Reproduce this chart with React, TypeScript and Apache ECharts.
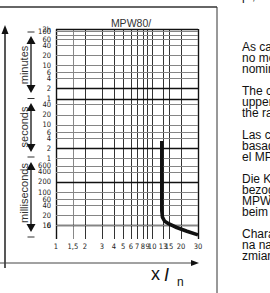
import { useEffect, useRef } from "react";
import * as echarts from "echarts";

// ---- data ----
const xTickValues = [1, 1.5, 2, 3, 4, 5, 6, 7, 8, 9, 10, 13, 15, 20, 30];
const xTickLabels = ["1", "1,5", "2", "3", "4", "5", "6", "7", "8", "9", "10", "13", "15", "20", "30"];

// time grid, in seconds
const yTickSeconds = [7200, 6000, 4800, 3600, 2400, 1200, 600, 360, 240, 120, 60, 40, 20, 10, 6, 4, 2, 1, 0.6, 0.4, 0.2, 0.1, 0.06, 0.04, 0.02, 0.01, 0.006, 0.004];
const yTickLabels = ["2h", "100", "", "60", "40", "20", "10", "6", "4", "2", "1", "40", "20", "10", "6", "4", "2", "1", "600", "400", "200", "100", "60", "40", "20", "10", "6", "4"];

// trip curve: multiples of In vs. time (s)
const curveCurrent = [12.6, 12.6, 12.8, 13.5, 15, 18, 23, 30];
const curveTime = [3.3, 0.028, 0.018, 0.0135, 0.0112, 0.0088, 0.0068, 0.0053];

const chartTitle = "MPW80/";
const unitNames = ["minutes", "seconds", "milliseconds"];
const sideParagraphs = [
  ["As can be seen", "no more than", "nominal current"],
  ["The curves", "upper limit", "the range"],
  ["Las curvas", "basadas en", "el MPW80"],
  ["Die Kennlinie", "bezogen auf", "MPW80", "beim"],
  ["Charakterystyka", "na nastawę", "zmiany"],
];

// ---- styling ----
const TICK_FONT = '"Liberation Sans Narrow", "Arial Narrow", "DejaVu Sans Condensed", "Liberation Sans", sans-serif';
const TEXT_FONT = '"Liberation Sans", Arial, sans-serif';
const darkY = new Set([120, 60, 2, 0.2, 0.01]);
const frameY = new Set([7200, 0.004]);
const frameX = new Set([1, 30]);
const lightX = new Set([1.5]);
const labelLift: Record<string, number> = { "7200": 6, "3600": 4, "2400": 5 };

export default function App() {
  const ref = useRef<HTMLDivElement>(null);

  useEffect(() => {
    if (!ref.current) return;
    const chart = echarts.init(ref.current, null, { renderer: "svg" });

    const yLines = yTickSeconds.map((v, i) => {
      const lab = yTickLabels[i];
      const lift = labelLift[String(v)] ?? 2;
      const isFrame = frameY.has(v);
      const isDark = darkY.has(v);
      return {
        yAxis: v,
        lineStyle: {
          color: isFrame || isDark ? "#111" : "#858585",
          width: isFrame ? 1.4 : isDark ? 1.3 : 1,
          type: "solid",
        },
        label: {
          show: lab !== "",
          formatter: lab,
          position: "start",
          distance: 5,
          padding: [0, 0, lift * 2, 0],
          fontSize: 7.5,
          fontFamily: TICK_FONT,
          color: "#222",
        },
      };
    });

    const xLines = xTickValues.map((v, i) => ({
      xAxis: v,
      lineStyle: {
        color: frameX.has(v) ? "#111" : lightX.has(v) ? "#888" : "#333",
        width: frameX.has(v) ? 1.4 : 1,
        type: "solid",
      },
      label: {
        show: true,
        formatter: xTickLabels[i],
        position: "start",
        distance: 3,
        fontSize: 7.5,
        fontFamily: TICK_FONT,
        color: "#222",
      },
    }));

    const arrowUp = (x: number, tip: number, w = 4.5, h = 8) => ({
      type: "polygon",
      shape: { points: [[x, tip], [x - w, tip + h], [x + w, tip + h]] },
      style: { fill: "#111" },
      silent: true,
    });
    const arrowDown = (x: number, tip: number, w = 4.5, h = 8) => ({
      type: "polygon",
      shape: { points: [[x, tip], [x - w, tip - h], [x + w, tip - h]] },
      style: { fill: "#111" },
      silent: true,
    });
    const seg = (x1: number, y1: number, x2: number, y2: number, stroke = "#111", lineWidth = 1) => ({
      type: "line",
      shape: { x1, y1, x2, y2 },
      style: { stroke, lineWidth },
      silent: true,
    });
    const txt = (x: number, y: number, text: string, fontSize: number, extra: any = {}, rotation = 0) => ({
      type: "text",
      x,
      y,
      rotation,
      silent: true,
      style: {
        text,
        fontSize,
        fontFamily: TEXT_FONT,
        fill: "#222",
        align: "left",
        verticalAlign: "middle",
        textAlign: "left",
        textVerticalAlign: "middle",
        ...extra,
      },
    });

    const graphics: any[] = [];
    // page frame lines
    graphics.push(seg(0, 7, 217, 7, "#333", 1.5));
    graphics.push(seg(217, 7, 217, 293, "#333", 1));
    // big axis arrows
    graphics.push(seg(5, 268, 5, 32, "#111", 1.4));
    graphics.push(arrowUp(5, 25, 3.5, 9));
    graphics.push(seg(0, 263, 193, 263, "#444", 1));
    graphics.push({
      type: "polygon",
      shape: { points: [[199, 263], [191, 260], [191, 266]] },
      style: { fill: "#111" },
      silent: true,
    });
    // unit group arrows
    const groups = [
      { top: 36, bottom: 93, center: 65 },
      { top: 103, bottom: 152, center: 127 },
      { top: 162, bottom: 232, center: 193 },
    ];
    [32, 98.5, 157, 237].forEach((y) => graphics.push(seg(27.5, y, 34.5, y, "#333", 1)));
    groups.forEach((g, i) => {
      graphics.push(seg(31, g.top + 6, 31, g.bottom - 6, "#111", 1.3));
      graphics.push(arrowUp(31, g.top));
      graphics.push(arrowDown(31, g.bottom));
      graphics.push(
        txt(23.5, g.center, unitNames[i], 11, { align: "center", textAlign: "center", fill: "#333" }, Math.PI / 2)
      );
    });
    // title
    graphics.push(txt(131, 23, chartTitle, 10.5, { align: "center", textAlign: "center", fill: "#333" }));
    // x In
    graphics.push(txt(151, 273.5, "x", 18, { fill: "#111" }));
    graphics.push(txt(164, 274.5, "I", 18, { fill: "#111", fontStyle: "italic" }));
    graphics.push(txt(177, 282, "n", 12, { fill: "#111" }));
    // right-hand text column (clipped by the page edge)
    graphics.push(txt(242, -4, "p ,", 12, { fill: "#111" }));
    let y = 47;
    sideParagraphs.forEach((p, pi) => {
      p.forEach((line, li) => {
        if (pi > 0 || li > 0) y += li === 0 ? 22 : 11;
        graphics.push(txt(242, y, line, 12, { fill: "#111" }));
      });
    });

    const option: any = {
      animation: false,
      grid: { left: 56, top: 29, width: 142, height: 210 },
      xAxis: {
        type: "log",
        logBase: 10,
        min: 1,
        max: 30,
        axisLine: { show: false },
        axisTick: { show: false },
        axisLabel: { show: false },
        splitLine: { show: false },
        minorTick: { show: false },
        minorSplitLine: { show: false },
      },
      yAxis: {
        type: "log",
        logBase: 10,
        min: 0.004,
        max: 7200,
        axisLine: { show: false },
        axisTick: { show: false },
        axisLabel: { show: false },
        splitLine: { show: false },
        minorTick: { show: false },
        minorSplitLine: { show: false },
      },
      series: [
        {
          type: "line",
          z: 1,
          data: [[1, 7200]],
          showSymbol: false,
          symbol: "none",
          lineStyle: { width: 0 },
          silent: true,
          markLine: {
            silent: true,
            animation: false,
            symbol: ["none", "none"],
            data: [...xLines, ...yLines],
          },
        },
        {
          type: "line",
          z: 5,
          data: curveCurrent.map((c, i) => [c, curveTime[i]]),
          showSymbol: false,
          symbol: "none",
          lineStyle: { color: "#111", width: 3.6, cap: "butt", join: "round" },
          silent: true,
        },
      ],
      graphic: graphics,
    };

    chart.setOption(option);
    return () => chart.dispose();
  }, []);

  return (
    <div
      ref={ref}
      style={{ position: "absolute", left: 0, top: 0, width: 270, height: 293 }}
    />
  );
}
